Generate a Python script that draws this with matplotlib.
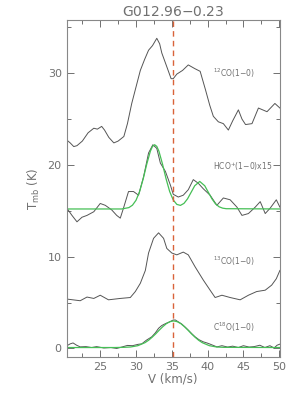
import matplotlib
matplotlib.use("Agg")
import matplotlib.pyplot as plt
from matplotlib.ticker import MultipleLocator

# 12CO(1-0) spectrum
v_12co = [20.35, 20.8, 21.3, 21.75, 22.5, 23.3, 24.1, 24.6, 25.2, 25.6, 26.2, 26.9,
          27.5, 28.3, 28.8, 29.4, 30.0, 30.6, 31.2, 31.75, 32.3, 32.9, 33.3, 33.6,
          34.3, 34.9, 35.2, 35.7, 36.5, 37.3, 38.2, 38.96, 39.7, 40.3, 40.8, 41.5,
          42.2, 42.9, 43.5, 44.3, 44.8, 45.3, 46.2, 47.1, 47.7, 48.3, 49.4, 50.1]
t_12co = [22.7, 22.4, 22.0, 22.1, 22.6, 23.5, 24.0, 23.9, 24.2, 23.8, 23.0, 22.4,
          22.6, 23.1, 24.5, 26.7, 28.5, 30.3, 31.5, 32.5, 33.0, 33.8, 33.2, 32.2,
          30.7, 29.4, 29.4, 29.9, 30.3, 30.9, 30.5, 30.2, 28.2, 26.5, 25.3, 24.7,
          24.5, 23.8, 24.8, 26.0, 25.0, 24.4, 24.5, 26.2, 26.0, 25.8, 26.7, 26.2]

# HCO+(1-0) x15 spectrum
v_hco = [20.35, 21.05, 21.75, 22.45, 23.15, 24.1, 25.0, 25.7, 26.6, 27.3, 27.8,
         28.25, 28.95, 29.65, 30.35, 31.05, 31.75, 32.35, 32.9, 33.4, 34.1, 34.8,
         35.2, 35.9, 36.6, 37.3, 38.0, 38.7, 39.4, 40.35, 41.3, 42.2, 43.15, 44.1,
         44.8, 45.7, 46.65, 47.35, 48.05, 48.75, 49.6, 50.1]
t_hco = [15.27, 14.5, 13.8, 14.3, 14.5, 14.9, 15.8, 15.6, 15.1, 14.5, 14.2,
         15.3, 17.1, 17.1, 16.7, 18.7, 21.3, 22.2, 21.8, 20.2, 19.3, 17.8,
         16.8, 16.5, 16.7, 17.3, 18.4, 18.0, 17.4, 16.7, 15.6, 16.4, 16.2, 15.4,
         14.5, 14.7, 15.4, 16.0, 14.7, 15.3, 16.2, 15.4]
# HCO+ fit
v_hco_fit = [20.3, 28.0, 29.0, 29.5, 30.0, 30.5, 31.0, 31.5, 32.0, 32.3, 32.6, 32.9,
             33.2, 33.7, 34.2, 34.7, 35.2, 35.7, 36.2, 36.7, 37.2, 37.7, 38.2, 38.9,
             39.6, 40.1, 40.6, 41.1, 41.6, 42.1, 42.6, 50.1]
t_hco_fit = [15.2, 15.2, 15.35, 15.61, 16.15, 17.1, 18.48, 20.09, 21.49, 22.02, 22.2, 22.02,
             21.49, 20.09, 18.48, 17.1, 16.18, 15.7, 15.59, 15.81, 16.31, 17.02, 17.73, 18.2,
             17.73, 17.02, 16.31, 15.76, 15.44, 15.29, 15.23, 15.2]

# 13CO(1-0) spectrum
v_13co = [20.35, 22.2, 23.15, 24.1, 25.0, 26.15, 27.8, 29.2, 29.9, 30.6, 31.3, 31.75,
          32.45, 33.15, 33.85, 34.3, 35.0, 35.7, 36.6, 37.3, 38.25, 39.4, 40.35, 41.05,
          42.0, 43.15, 44.55, 45.7, 46.85, 48.05, 48.95, 49.6, 50.1]
t_13co = [5.38, 5.2, 5.6, 5.45, 5.8, 5.3, 5.45, 5.55, 6.2, 7.1, 8.5, 10.4,
          12.0, 12.6, 12.0, 10.9, 10.4, 10.2, 10.5, 10.2, 8.9, 7.45, 6.35, 5.55,
          5.8, 5.55, 5.3, 5.8, 6.2, 6.35, 6.9, 7.6, 8.5]

# C18O(1-0) spectrum
v_c18o = [20.35, 20.8, 21.2, 21.7, 22.2, 23.0, 23.8, 24.5, 25.5, 26.5, 27.3, 28.0,
          28.8, 29.5, 30.3, 30.8, 31.45, 32.2, 32.7, 33.15, 33.6, 34.1, 34.7, 35.2,
          35.5, 35.9, 36.4, 36.9, 37.3, 37.8, 38.25, 38.8, 39.4, 39.9, 40.35, 41.3,
          42.0, 42.8, 43.5, 44.3, 45.0, 45.8, 46.5, 47.3, 48.0, 48.7, 49.3, 49.7, 50.1]
t_c18o = [0.3, 0.5, 0.6, 0.35, 0.17, 0.2, 0.1, 0.2, 0.05, 0.1, 0.0, 0.15,
          0.33, 0.3, 0.45, 0.5, 0.9, 1.27, 1.7, 2.2, 2.5, 2.7, 2.9, 3.1,
          3.1, 2.9, 2.65, 2.3, 2.0, 1.6, 1.27, 0.95, 0.72, 0.6, 0.47, 0.17,
          0.3, 0.15, 0.25, 0.1, 0.3, 0.15, 0.2, 0.35, 0.1, 0.3, 0.05, 0.35, 0.47]
# C18O fit
v_c18o_fit = [20.3, 27.0, 28.25, 29.25, 30.25, 31.25, 31.75, 32.25, 32.75, 33.25, 33.75,
              34.25, 34.75, 35.25, 35.75, 36.25, 36.75, 37.25, 37.75, 38.25, 38.75,
              39.25, 40.25, 41.25, 42.25, 50.1]
t_c18o_fit = [0.1, 0.1, 0.12, 0.16, 0.3, 0.63, 0.89, 1.22, 1.59, 2.0, 2.38,
              2.71, 2.92, 3.0, 2.92, 2.71, 2.38, 2.0, 1.59, 1.22, 0.89,
              0.63, 0.3, 0.16, 0.12, 0.1]

line_names = ["$^{12}$CO(1$-$0)", "HCO$^{+}$(1$-$0)x15", "$^{13}$CO(1$-$0)", "C$^{18}$O(1$-$0)"]
label_y = [30.0, 19.8, 9.5, 2.3]
v_sys = 35.2

gray = "#707070"
fig = plt.figure(figsize=(3.0, 3.99), dpi=100)
ax = fig.add_axes([0.222, 0.106, 0.711, 0.844])

for v, t in [(v_12co, t_12co), (v_hco, t_hco), (v_13co, t_13co), (v_c18o, t_c18o)]:
    ax.plot(v, t, color="#555555", lw=0.7)
ax.plot(v_hco_fit, t_hco_fit, color="#45bf55", lw=0.9)
ax.plot(v_c18o_fit, t_c18o_fit, color="#45bf55", lw=0.9)
ax.axvline(v_sys, color="#d9633a", ls=(0, (4, 3)), lw=1.0)

for name, y in zip(line_names, label_y):
    ax.text(40.8, y, name, fontsize=5.5, color=gray, ha="left", va="center")

ax.set_xlim(20.3, 50.1)
ax.set_ylim(-0.9, 35.8)
ax.xaxis.set_major_locator(MultipleLocator(5))
ax.xaxis.set_minor_locator(MultipleLocator(2.5))
ax.yaxis.set_major_locator(MultipleLocator(10))
ax.yaxis.set_minor_locator(MultipleLocator(5))
ax.tick_params(which="both", direction="in", top=True, right=True, colors=gray, labelsize=8)
ax.tick_params(which="major", length=5, width=0.7)
ax.tick_params(which="minor", length=3, width=0.7)
for s in ax.spines.values():
    s.set_color("#888888")
    s.set_linewidth(0.8)

ax.set_xlabel("V (km/s)", color=gray, fontsize=8.5, labelpad=1)
ax.set_ylabel("T$_{\\rm mb}$ (K)", color=gray, fontsize=8.5, labelpad=4)
ax.set_title("G012.96$-$0.23", color=gray, fontsize=10, pad=3)

fig.savefig("out.png", dpi=100)
